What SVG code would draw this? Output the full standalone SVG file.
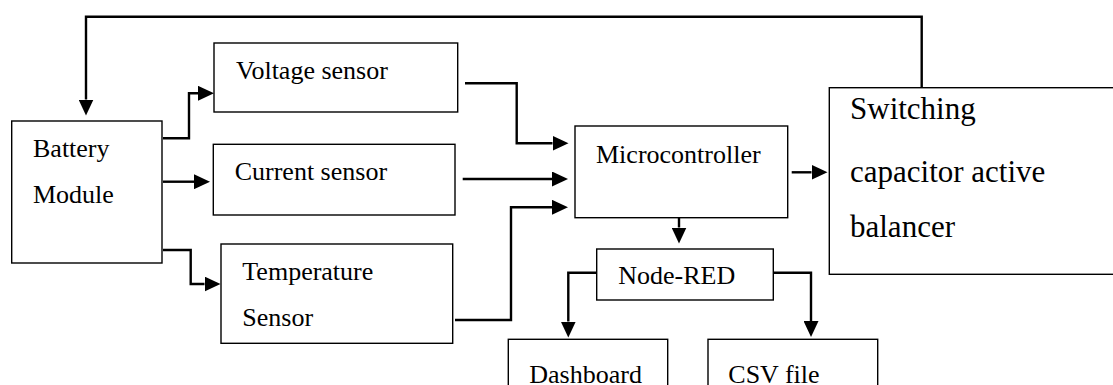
<svg xmlns="http://www.w3.org/2000/svg" width="1113" height="385" viewBox="0 0 1113 385">
  <style>
    .box { fill: #fff; stroke: #000; stroke-width: 1.4; }
    text { font-family: 'Liberation Serif', 'DejaVu Serif', serif; font-size: 26px; fill: #000; }
    .big { font-size: 31px; }
    .wire { fill: none; stroke: #000; stroke-width: 2.4; marker-end: url(#head); }
  </style>
  <defs>
    <marker id="head" viewBox="0 0 16 15" refX="0" refY="7.5" markerWidth="16" markerHeight="15" markerUnits="userSpaceOnUse" orient="auto">
      <path d="M0,0 L16,7.5 L0,15 z" fill="#000"/>
    </marker>
  </defs>

  <rect width="1113" height="385" fill="#fff"/>

  <g id="connectors">
    <!-- feedback from balancer back to the battery -->
    <path class="wire" d="M921.7,87.7 V16.7 H86 V99.5"/>
    <!-- battery to the three sensors -->
    <path class="wire" d="M163,138.3 H189 V93.3 H198"/>
    <path class="wire" d="M163,181.7 H194"/>
    <path class="wire" d="M163,250 H190.7 V284 H204.5"/>
    <!-- sensors to the microcontroller -->
    <path class="wire" d="M465,83.3 H516.7 V143.3 H552.5"/>
    <path class="wire" d="M462.7,179 H552"/>
    <path class="wire" d="M455,320 H511 V207.3 H552"/>
    <!-- microcontroller outputs -->
    <path class="wire" d="M679,217.7 V227.5"/>
    <path class="wire" d="M791.7,172.3 H811.5"/>
    <!-- Node-RED outputs -->
    <path class="wire" d="M596,272.7 H568.3 V321.5"/>
    <path class="wire" d="M774,272.7 H811 V321"/>
  </g>

  <g id="battery">
    <rect class="box" x="11.7" y="121" width="150.3" height="142"/>
    <text font-family="Liberation Serif, serif" x="33" y="157">Battery</text>
    <text font-family="Liberation Serif, serif" x="33" y="203">Module</text>
  </g>

  <g id="voltage-sensor">
    <rect class="box" x="214" y="43" width="243.7" height="69"/>
    <text font-family="Liberation Serif, serif" x="236" y="79">Voltage sensor</text>
  </g>

  <g id="current-sensor">
    <rect class="box" x="213.3" y="144.3" width="241.7" height="70.7"/>
    <text font-family="Liberation Serif, serif" x="234.7" y="180">Current sensor</text>
  </g>

  <g id="temperature-sensor">
    <rect class="box" x="221" y="244" width="231.7" height="99.3"/>
    <text font-family="Liberation Serif, serif" x="242.3" y="280">Temperature</text>
    <text font-family="Liberation Serif, serif" x="242.3" y="326">Sensor</text>
  </g>

  <g id="microcontroller">
    <rect class="box" x="575" y="126" width="212.7" height="91.7"/>
    <text font-family="Liberation Serif, serif" x="596" y="163">Microcontroller</text>
  </g>

  <g id="node-red">
    <rect class="box" x="596.7" y="249" width="176.6" height="51"/>
    <text font-family="Liberation Serif, serif" x="618.3" y="284">Node-RED</text>
  </g>

  <g id="dashboard">
    <rect class="box" x="508.3" y="339.3" width="159.4" height="70"/>
    <text font-family="Liberation Serif, serif" x="529.3" y="382.5">Dashboard</text>
  </g>

  <g id="csv-file">
    <rect class="box" x="708" y="339.3" width="169.7" height="70"/>
    <text font-family="Liberation Serif, serif" x="728.3" y="382.5">CSV file</text>
  </g>

  <g id="balancer">
    <rect class="box" x="829.3" y="87.7" width="320" height="186.6"/>
    <text class="big" font-family="Liberation Serif, serif" x="850" y="119.3">Switching</text>
    <text class="big" font-family="Liberation Serif, serif" x="850" y="181.7">capacitor active</text>
    <text class="big" font-family="Liberation Serif, serif" x="850" y="237.3">balancer</text>
  </g>
</svg>
